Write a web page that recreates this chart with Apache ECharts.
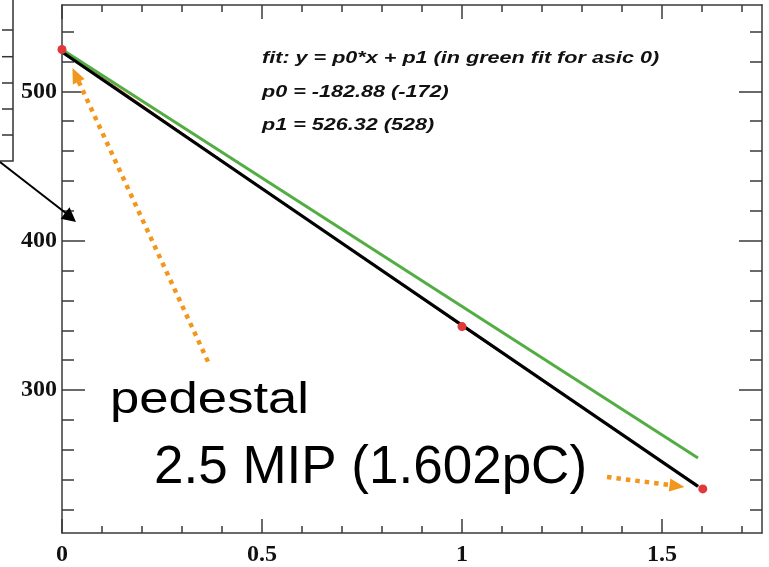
<!DOCTYPE html>
<html>
<head>
<meta charset="utf-8">
<script src="https://cdn.jsdelivr.net/npm/echarts@6/dist/echarts.min.js"></script>
<style>
html,body{margin:0;padding:0;background:#fff;}
#chart{width:769px;height:567px;}
</style>
</head>
<body>
<div id="chart"></div>
<script>
// ---- data ----
const xMajorTicks = [0, 0.5, 1, 1.5];
const xMinorTicks = [0.1, 0.2, 0.3, 0.4, 0.6, 0.7, 0.8, 0.9, 1.1, 1.2, 1.3, 1.4, 1.6, 1.7];
const yMajorTicks = [300, 400, 500];
const yMinorTicks = [220, 240, 260, 280, 320, 340, 360, 380, 420, 440, 460, 480, 520, 540];
const xRange = [0, 1.75];
const yRange = [204.3, 557.8];

const pointX = [0, 1, 1.602];
const pointY = [528, 342.5, 233.8];

const blackFitX = [0, 1.59];
const blackFitY = [526.3, 235.5];

const greenFitX = [0, 1.59];
const greenFitY = [528, 254.5];

// annotation arrows: [fromX, fromY, toX, toY]
const orangeArrowPedestal = [0.365, 319, 0.034, 511];
const orangeArrowMip = [1.3625, 241.8, 1.5375, 235.8];

const fitTextLines = [
  'fit: y = p0*x + p1 (in green fit for asic 0)',
  'p0 = -182.88 (-172)',
  'p1 = 526.32 (528)'
];
const pedestalText = 'pedestal';
const mipText = '2.5 MIP (1.602pC)';

// ---- build ----
const zip = (xs, ys) => xs.map((x, i) => [x, ys[i]]);
const axisColor = '#3a3a3a';
const labelFont = {fontFamily: 'Liberation Serif', fontWeight: 'bold', fontSize: 24, color: '#111'};

function xAxisDef(pos, ticks, len, showLabel, showLine) {
  return {
    type: 'value', position: pos, min: xRange[0], max: xRange[1],
    axisLine: {show: showLine, onZero: false, lineStyle: {color: axisColor, width: 1.5}},
    axisTick: {show: true, inside: true, length: len, customValues: ticks, lineStyle: {color: axisColor, width: 1.5}},
    axisLabel: Object.assign({show: showLabel, customValues: ticks, margin: 10}, labelFont),
    splitLine: {show: false}
  };
}
function yAxisDef(pos, ticks, len, showLabel, showLine) {
  return {
    type: 'value', position: pos, min: yRange[0], max: yRange[1],
    axisLine: {show: showLine, onZero: false, lineStyle: {color: axisColor, width: 1.5}},
    axisTick: {show: true, inside: true, length: len, customValues: ticks, lineStyle: {color: axisColor, width: 1.5}},
    axisLabel: Object.assign({show: showLabel, customValues: ticks, margin: 5}, labelFont),
    splitLine: {show: false}
  };
}

function arrowLine(a, color, width, type, size) {
  return [
    {coord: [a[0], a[1]], symbol: 'none'},
    {coord: [a[2], a[3]], symbol: 'triangle', symbolSize: size,
     lineStyle: {color: color, width: width, type: type, cap: 'butt'},
     itemStyle: {color: color}}
  ];
}

const fitTextStyle = (t) => ({text: t, fontFamily: 'Liberation Sans', fontWeight: 'bold', fontStyle: 'italic', fontSize: 17, fill: '#111', verticalAlign: 'middle'});

const chart = echarts.init(document.getElementById('chart'), null, {renderer: 'canvas'});
const option = {
  backgroundColor: '#fff',
  animation: false,
  grid: {left: 62, top: 5, right: 7, bottom: 32, containLabel: false},
  xAxis: [
    xAxisDef('bottom', xMajorTicks, 14, true, true),
    xAxisDef('bottom', xMinorTicks, 7, false, false),
    xAxisDef('top', xMajorTicks, 14, false, true),
    xAxisDef('top', xMinorTicks, 7, false, false)
  ],
  yAxis: [
    yAxisDef('left', yMajorTicks, 23, true, true),
    yAxisDef('left', yMinorTicks, 12, false, false),
    yAxisDef('right', yMajorTicks, 23, false, true),
    yAxisDef('right', yMinorTicks, 12, false, false)
  ],
  series: [
    {
      type: 'line', name: 'graph', data: zip(pointX, pointY), showSymbol: false,
      lineStyle: {color: '#e03a3a', width: 1}, z: 2
    },
    {
      type: 'line', name: 'green fit', data: zip(greenFitX, greenFitY), showSymbol: false,
      lineStyle: {color: '#52ad42', width: 3}, z: 3
    },
    {
      type: 'line', name: 'black fit', data: zip(blackFitX, blackFitY), showSymbol: false,
      lineStyle: {color: '#000', width: 3.2}, z: 4
    },
    {
      type: 'scatter', name: 'points', data: zip(pointX, pointY), symbolSize: 9,
      itemStyle: {color: '#e0393b', opacity: 1}, z: 5
    },
    {
      type: 'line', name: 'annotations', data: [], clip: false, silent: true, z: 6,
      markLine: {
        silent: true, animation: false,
        label: {show: false},
        symbol: ['none', 'triangle'],
        data: [
          arrowLine(orangeArrowPedestal, '#f3961c', 4.5, [4.5, 5], [13, 15]),
          arrowLine(orangeArrowMip, '#f3961c', 4.5, [4.5, 5], [13, 15])
        ]
      }
    }
  ],
  graphic: [
    {type: 'polyline', shape: {points: [[0, 161], [13, 161], [13, -2]]}, style: {stroke: '#333', lineWidth: 1.5, fill: null}},
    {type: 'line', shape: {x1: 2, y1: 30, x2: 13, y2: 30}, style: {stroke: '#333', lineWidth: 1.5}},
    {type: 'line', shape: {x1: 2, y1: 56.7, x2: 13, y2: 56.7}, style: {stroke: '#333', lineWidth: 1.5}},
    {type: 'line', shape: {x1: 2, y1: 83, x2: 13, y2: 83}, style: {stroke: '#333', lineWidth: 1.5}},
    {type: 'line', shape: {x1: 2, y1: 109, x2: 13, y2: 109}, style: {stroke: '#333', lineWidth: 1.5}},
    {type: 'line', shape: {x1: 2, y1: 135, x2: 13, y2: 135}, style: {stroke: '#333', lineWidth: 1.5}},
    // black annotation arrow from the side box into the plot
    {type: 'line', shape: {x1: 0, y1: 162, x2: 67, y2: 214}, style: {stroke: '#000', lineWidth: 2}, z: 10},
    {type: 'polygon', shape: {points: [[76, 222], [60.7, 218.7], [69.5, 207.2]]}, style: {fill: '#000'}, z: 10},
    {type: 'text', x: 262, y: 58, scaleX: 1.27, style: fitTextStyle(fitTextLines[0])},
    {type: 'text', x: 262, y: 92, scaleX: 1.27, style: fitTextStyle(fitTextLines[1])},
    {type: 'text', x: 262, y: 125, scaleX: 1.27, style: fitTextStyle(fitTextLines[2])},
    {type: 'text', x: 110, y: 401, scaleX: 1.17, style: {text: pedestalText, fontFamily: 'Liberation Sans', fontSize: 45, fill: '#000', verticalAlign: 'middle'}},
    {type: 'text', x: 154, y: 468, style: {text: mipText, fontFamily: 'Liberation Sans', fontSize: 53, fill: '#000', verticalAlign: 'middle'}}
  ]
};
chart.setOption(option);
</script>
</body>
</html>
